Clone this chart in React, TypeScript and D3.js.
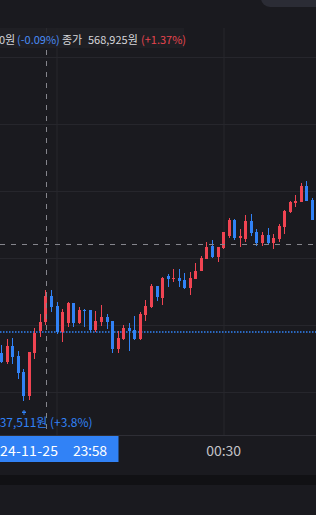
import React from "react";
import * as d3 from "d3";

const times = [
  "23:50","23:51","23:52","23:53","23:54","23:55","23:56","23:57","23:58","23:59",
  "00:00","00:01","00:02","00:03","00:04","00:05","00:06","00:07","00:08","00:09",
  "00:10","00:11","00:12","00:13","00:14","00:15","00:16","00:17","00:18","00:19",
  "00:20","00:21","00:22","00:23","00:24","00:25","00:26","00:27","00:28","00:29",
  "00:30","00:31","00:32","00:33","00:34","00:35","00:36","00:37","00:38","00:39",
  "00:40","00:41","00:42","00:43","00:44","00:45","00:46"
];
const opens = [551940,549250,554030,551040,546270,539100,551940,558510,561190,568950,565970,558210,560900,566870,560900,564780,564780,558810,561190,562690,561490,553130,556120,559400,558810,556120,563280,565670,571940,568360,574920,574030,574330,573730,571340,574030,576420,580000,583880,580600,583280,586860,591640,586270,585970,591340,588060,584780,587160,584780,585970,589550,594030,596720,597010,601790,597610];
const highs = [554330,556120,556420,552540,547160,552240,559400,563580,570750,570750,567160,565070,567160,566870,565670,565070,564780,564480,566270,563580,561490,558510,560300,560900,562980,564180,567760,572540,571940,574630,575520,577010,577010,575820,576120,578810,580890,585070,585670,583580,588060,592240,591940,588950,593130,593430,588950,588060,589250,587460,590450,594630,597310,599100,602690,603280,598210];
const lows = [548960,548660,548660,544180,537511,537910,550150,556720,560300,564180,557610,555220,559700,559700,560600,559700,558210,558210,560000,559100,551940,551940,555820,552540,555820,555820,561490,565370,567460,566270,571640,573130,571640,571040,569250,574030,576420,580000,580300,579100,582980,586270,585670,583580,585070,586860,583880,583880,584180,582980,585070,587460,593730,595520,597010,597310,591640];
const closes = [549250,554030,550750,545970,539100,552240,557910,561190,568925,565670,558210,564180,566870,560900,564780,564480,558810,561490,562690,561190,553130,556420,559400,558510,556120,563580,565970,571940,568660,574330,574030,574330,573430,571340,574330,576420,580300,583580,580600,583580,588060,591640,586270,586860,591340,587760,584780,587160,584780,586270,589850,594330,597010,597310,601790,597310,591640];

const priceGrid = [540000, 560000, 580000, 600000, 620000, 640000];
const timeGrid = ["00:00", "00:30"];
const timeAxisLabels = ["00:30"];
const hoverIndex = 8;
const crosshairPrice = 584480;
const referencePrice = 558210;
const lowIndex = 4;
const lowText = "537,511원";
const lowPct = "(+3.8%)";

const RED = "#f04452";
const BLUE = "#3182f6";
const BG = "#1a1a1f";

function toDate(t: string) {
  const [h, m] = t.split(":").map(Number);
  const day = h >= 12 ? 25 : 26;
  return new Date(2024, 10, day, h, m);
}

export default function App() {
  const W = 316, H = 515;
  const dates = times.map(toDate);
  const x = d3.scaleTime().domain([dates[0], dates[dates.length - 1]]).range([1.5, 312.5]);
  const y = d3.scaleLinear().domain([540000, 640000]).range([393, 58]);
  const plotTop = 28, plotBottom = 435;
  const snap = (v: number) => Math.round(v) + 0.5;
  const hx = snap(x(dates[hoverIndex]));
  const font = "'Noto Sans CJK KR', 'Noto Sans', sans-serif";

  return (
    <div style={{ position: "fixed", left: 0, top: 0, width: W, height: H, background: BG }}>
      <svg width={W} height={H} style={{ display: "block" }}>
        <rect x={0} y={0} width={W} height={H} fill={BG} />
        <rect x={261} y={-20} width={80} height={27} rx={9} fill="#2b2c35" />
        {/* grid */}
        {priceGrid.map((p) => (
          <line key={p} x1={0} x2={W} y1={snap(y(p)) - 1} y2={snap(y(p)) - 1} stroke="#26262c" strokeWidth={1} />
        ))}
        {timeGrid.map((t) => (
          <line key={t} x1={snap(x(toDate(t))) - 0.5} x2={snap(x(toDate(t))) - 0.5} y1={plotTop} y2={plotBottom} stroke="#26262c" strokeWidth={1} />
        ))}
        {/* reference dotted line */}
        <line x1={0} x2={W} y1={y(referencePrice)} y2={y(referencePrice)} stroke={BLUE} strokeWidth={1.5} strokeDasharray="1.5,1.5" />
        {/* candles */}
        {dates.map((d, i) => {
          const cx = x(d);
          const o = opens[i], c = closes[i];
          const up = c >= o;
          const color = up ? RED : BLUE;
          const bx = Math.round(cx - 1.5);
          const top = Math.round(y(Math.max(o, c)));
          const bot = Math.round(y(Math.min(o, c)));
          const hTop = Math.round(y(highs[i]));
          const lBot = Math.round(y(lows[i]));
          return (
            <g key={i}>
              <rect x={bx + 1} y={hTop} width={1} height={Math.max(1, lBot - hTop)} fill={color} />
              <rect x={bx} y={top} width={3} height={Math.max(1, bot - top)} fill={color} />
            </g>
          );
        })}
        {/* crosshair */}
        <line x1={0} x2={W} y1={snap(y(crosshairPrice))} y2={snap(y(crosshairPrice))} stroke="#85858c" strokeWidth={1} strokeDasharray="5,6" />
        <line x1={hx} x2={hx} y1={plotTop} y2={plotBottom} stroke="#85858c" strokeWidth={1} strokeDasharray="5,6" />
        {/* legend */}
        <rect x={0} y={28} width={184} height={20} fill="#202025" opacity={0.9} />
        <text y={44} fontFamily={font} fontSize={11} fill="#d6d6da">
          <tspan x={-1}>0원</tspan>
          <tspan x={17} fill="#4a8cf5">(-0.09%)</tspan>
          <tspan x={62}>종가</tspan>
          <tspan x={88}>568,925원</tspan>
          <tspan x={141} fill="#e8454f">(+1.37%)</tspan>
        </text>
        {/* low marker */}
        <rect x={Math.round(x(dates[lowIndex])) - 0.5} y={410} width={1} height={5} fill={BLUE} />
        <rect x={Math.round(x(dates[lowIndex])) - 2} y={411.5} width={4} height={1.5} fill={BLUE} />
        <text x={-7} y={427} fontFamily={font} fontSize={12} fill={BLUE}>
          {lowText + " " + lowPct}
        </text>
        {/* time axis */}
        <line x1={0} x2={W} y1={435.5} y2={435.5} stroke="#2e2e35" strokeWidth={1} />
        <rect x={0} y={475} width={W} height={10} fill="#111114" />
        {timeAxisLabels.map((t) => (
          <text key={t} x={x(toDate(t))} y={456} textAnchor="middle" fontFamily={font} fontSize={14} fill="#c3c3c7">{t}</text>
        ))}
        <rect x={hx - 72} y={436} width={144} height={26} fill={BLUE} />
        <text x={-16} y={456} fontFamily={font} fontSize={14} fill="#ffffff" textLength={74} lengthAdjust="spacing">2024-11-25</text>
        <text x={73} y={456} fontFamily={font} fontSize={14} fill="#ffffff" textLength={34} lengthAdjust="spacing">{times[hoverIndex]}</text>
      </svg>
    </div>
  );
}
